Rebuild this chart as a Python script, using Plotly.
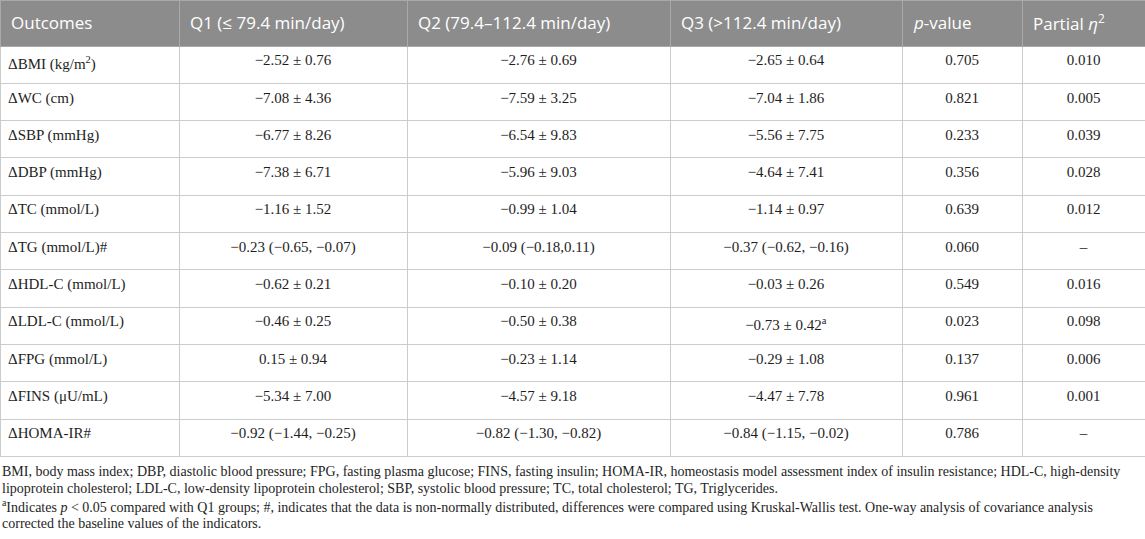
import plotly.graph_objects as go

# ---- data ----
header_labels = ["Outcomes", "Q1 (≤ 79.4 min/day)", "Q2 (79.4–112.4 min/day)",
                 "Q3 (>112.4 min/day)", "<i>p</i>-value", "Partial <i>η</i><sup>2</sup>"]
outcomes = ["ΔBMI (kg/m<sup>2</sup>)", "ΔWC (cm)", "ΔSBP (mmHg)", "ΔDBP (mmHg)", "ΔTC (mmol/L)",
            "ΔTG (mmol/L)#", "ΔHDL-C (mmol/L)", "ΔLDL-C (mmol/L)", "ΔFPG (mmol/L)",
            "ΔFINS (μU/mL)", "ΔHOMA-IR#"]
q1 = ["−2.52 ± 0.76", "−7.08 ± 4.36", "−6.77 ± 8.26", "−7.38 ± 6.71", "−1.16 ± 1.52",
      "−0.23 (−0.65, −0.07)", "−0.62 ± 0.21", "−0.46 ± 0.25", "0.15 ± 0.94",
      "−5.34 ± 7.00", "−0.92 (−1.44, −0.25)"]
q2 = ["−2.76 ± 0.69", "−7.59 ± 3.25", "−6.54 ± 9.83", "−5.96 ± 9.03", "−0.99 ± 1.04",
      "−0.09 (−0.18,0.11)", "−0.10 ± 0.20", "−0.50 ± 0.38", "−0.23 ± 1.14",
      "−4.57 ± 9.18", "−0.82 (−1.30, −0.82)"]
q3 = ["−2.65 ± 0.64", "−7.04 ± 1.86", "−5.56 ± 7.75", "−4.64 ± 7.41", "−1.14 ± 0.97",
      "−0.37 (−0.62, −0.16)", "−0.03 ± 0.26", "−0.73 ± 0.42<sup>a</sup>", "−0.29 ± 1.08",
      "−4.47 ± 7.78", "−0.84 (−1.15, −0.02)"]
p_values = ["0.705", "0.821", "0.233", "0.356", "0.639", "0.060", "0.549", "0.023",
            "0.137", "0.961", "0.786"]
partial_eta2 = ["0.010", "0.005", "0.039", "0.028", "0.012", "–", "0.016", "0.098",
                "0.006", "0.001", "–"]
footnotes = [
    "BMI, body mass index; DBP, diastolic blood pressure; FPG, fasting plasma glucose; FINS, fasting insulin; HOMA-IR, homeostasis model assessment index of insulin resistance; HDL-C, high-density",
    "lipoprotein cholesterol; LDL-C, low-density lipoprotein cholesterol; SBP, systolic blood pressure; TC, total cholesterol; TG, Triglycerides.",
    "<sup>a</sup>Indicates <i>p</i> &lt; 0.05 compared with Q1 groups; #, indicates that the data is non-normally distributed, differences were compared using Kruskal-Wallis test. One-way analysis of covariance analysis",
    "corrected the baseline values of the indicators.",
]

W, H = 1145, 539
col_px = [179, 228, 263, 232, 120, 123]
header_h = 46
row_h = 37.3

fig = go.Figure(go.Table(
    columnwidth=col_px,
    header=dict(
        values=[""] * len(header_labels),
        fill_color="#8c8c8c",
        line=dict(color="#a9a9a9", width=1),
        font=dict(family="Open Sans", size=17, color="white"),
        align="left",
        height=header_h,
    ),
    cells=dict(
        values=[outcomes, q1, q2, q3, p_values, partial_eta2],
        fill_color="white",
        line=dict(color="#cccccc", width=1),
        font=dict(family="Liberation Serif", size=15, color="#1e1e1e"),
        align=["left", "center", "center", "center", "center", "center"],
        height=row_h,
    ),
    domain=dict(x=[0, 1], y=[0, 1]),
))

# header labels, vertically centred in the header band
left = 0
for label, w in zip(header_labels, col_px):
    fig.add_annotation(
        text=label, xref="paper", yref="paper", x=(left + 9) / W, y=1 - (header_h / 2) / H,
        xanchor="left", yanchor="middle", showarrow=False,
        font=dict(family="Open Sans", size=17, color="white"),
    )
    left += w

table_bottom = header_h + row_h * len(outcomes)
line_y0 = table_bottom + 15
line_step = 17.4
for i, txt in enumerate(footnotes):
    y_px = line_y0 + i * line_step
    fig.add_annotation(
        text=txt, xref="paper", yref="paper", x=0, y=1 - y_px / H,
        xanchor="left", yanchor="middle", showarrow=False,
        font=dict(family="Liberation Serif", size=14, color="#1e1e1e"),
    )

fig.update_layout(width=W, height=H, margin=dict(l=0, r=0, t=0, b=0),
                  paper_bgcolor="white")
fig.write_html("out.html", config={"displayModeBar": False},
               post_script="document.body.style.margin='0';")
